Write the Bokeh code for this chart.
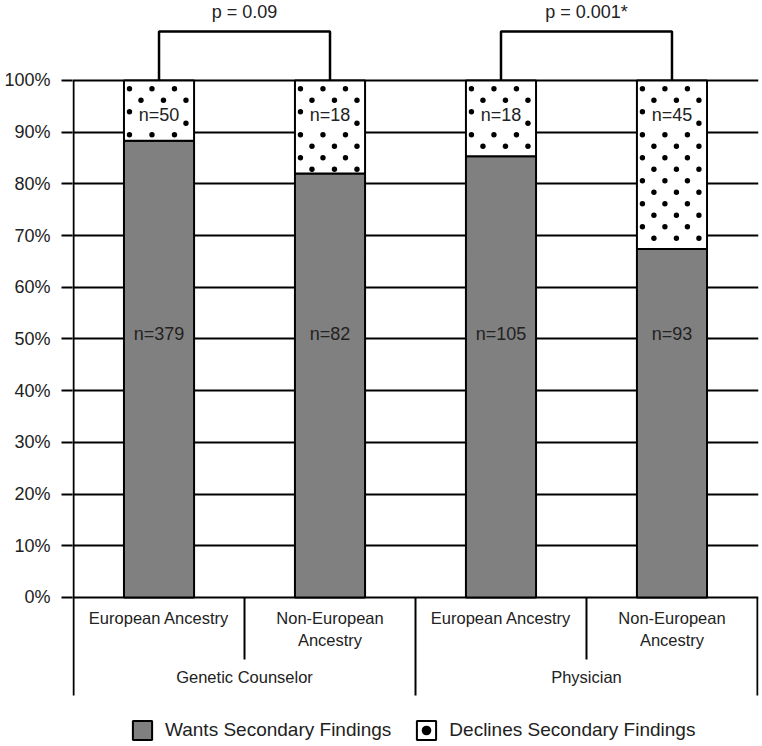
import numpy as np
from bokeh.plotting import figure
from bokeh.models import (ColumnDataSource, Range1d, FixedTicker, NumeralTickFormatter,
                          Legend, LegendItem)
from bokeh.core.properties import value
from bokeh.embed import file_html
from bokeh.resources import INLINE

# ---- data ----
professions = ["Genetic Counselor", "Genetic Counselor", "Physician", "Physician"]
ancestries = ["European Ancestry", "Non-European\nAncestry", "European Ancestry", "Non-European\nAncestry"]
wants_n = [379, 82, 105, 93]
declines_n = [50, 18, 18, 45]
p_labels = ["p = 0.09", "p = 0.001*"]
y_ticks = [0.0, 0.1, 0.2, 0.3, 0.4, 0.5, 0.6, 0.7, 0.8, 0.9, 1.0]
legend_labels = ["Wants Secondary Findings", "Declines Secondary Findings"]

# ---- derived ----
n = len(wants_n)
x = np.arange(n) + 0.5
wants = np.array(wants_n, dtype=float)
decl = np.array(declines_n, dtype=float)
total = wants + decl
wants_frac = wants / total
top_frac = total / total

FONT = "Liberation Sans"
TXT = "#222222"

W, H = 762, 746
LEFT, RIGHT = 72, 4
Y0, Y1 = -0.2882, 1.1547
XPAD = 0.006
px_x = (n + 2 * XPAD) / (W - LEFT - RIGHT)   # data units per pixel (x)
px_y = (Y1 - Y0) / H                          # data units per pixel (y)

p = figure(width=W, height=H, x_range=Range1d(-XPAD, n + XPAD), y_range=Range1d(Y0, Y1),
           output_backend="svg", toolbar_location=None, x_axis_location=None, y_axis_location="left",
           min_border_left=LEFT, min_border_right=RIGHT, min_border_top=0, min_border_bottom=0,
           outline_line_color=None, background_fill_color="white")

# y axis
yax = p.yaxis[0]
yax.ticker = FixedTicker(ticks=y_ticks)
yax.formatter = NumeralTickFormatter(format="0%")
yax.axis_line_color = None
yax.major_tick_out = 11
yax.major_tick_in = 0
yax.major_tick_line_color = "black"
yax.major_tick_line_width = 2
yax.minor_tick_line_color = None
yax.major_label_standoff = 11
yax.major_label_text_font = FONT
yax.major_label_text_font_size = "18px"
yax.major_label_text_color = TXT

p.ygrid.ticker = FixedTicker(ticks=y_ticks)
p.ygrid.grid_line_color = "black"
p.ygrid.grid_line_width = 2
for g in p.xgrid:
    g.visible = False

bar_w = 0.41
src = ColumnDataSource(dict(x=x, wants=wants_frac, top=top_frac))
r_wants = p.vbar(x="x", bottom=0, top="wants", width=bar_w, source=src,
                 fill_color="#808080", line_color="black", line_width=2)
r_decl = p.vbar(x="x", bottom="wants", top="top", width=bar_w, source=src,
                fill_color="white", line_color="black", line_width=2)

# dotted texture inside the "declines" segments (staggered lattice)
dx, dy = [], []
bw_px = bar_w / px_x
for i in range(n):
    left = x[i] - bar_w / 2
    k = 0
    while True:
        yy = top_frac[i] - (8.3 + 11.5 * k) * px_y
        if yy < wants_frac[i] + 3.5 * px_y:
            break
        off = 5.5 + (k % 2) * 11.5
        while off < bw_px - 3:
            dx.append(left + off * px_x)
            dy.append(yy)
            off += 22.5
        k += 1
r_dots = p.scatter(x=dx, y=dy, size=5.4, marker="circle", fill_color="black", line_color=None)

# data labels
p.text(x=x, y=[0.5106] * n, text=[f"n={v}" for v in wants_n], text_align="center",
       text_baseline="middle", text_font=value(FONT), text_font_size="18px", text_color=TXT)
p.text(x=x, y=[0.9323] * n, text=[f"n={v}" for v in declines_n], text_align="center",
       text_baseline="middle", text_font=value(FONT), text_font_size="18px", text_color=TXT,
       background_fill_color="white", padding=1)

# significance brackets
pairs = [(0, 1), (2, 3)]
bx, by, px = [], [], []
for a, b in pairs:
    bx.append([x[a], x[a], x[b], x[b]])
    by.append([top_frac[a], 1.0947, 1.0947, top_frac[b]])
    px.append((x[a] + x[b]) / 2)
p.multi_line(xs=bx, ys=by, line_color="black", line_width=2.5)
p.text(x=px, y=[1.1334] * len(px), text=p_labels, text_align="center", text_baseline="middle",
       text_font=value(FONT), text_font_size="18px", text_color=TXT)

# hierarchical category axis
bounds = np.arange(n + 1)
y_top = [1.0 if b == 0 else 0.0 for b in bounds]
y_bot = [-0.1896 if b % 2 == 0 else -0.1199 for b in bounds]
p.segment(x0=bounds, y0=y_top, x1=bounds, y1=y_bot, line_color="black", line_width=2)

p.text(x=x, y=[-0.0232] * n, text=ancestries, text_align="center", text_baseline="top",
       text_font=value(FONT), text_font_size="16.5px", text_color=TXT, text_line_height=1.2)

groups = []
for pr in professions:
    if pr not in groups:
        groups.append(pr)
gx = [float(np.mean([x[i] for i in range(n) if professions[i] == g])) for g in groups]
p.text(x=gx, y=[-0.1547] * len(gx), text=groups, text_align="center", text_baseline="middle",
       text_font=value(FONT), text_font_size="16.5px", text_color=TXT)

# legend
legend = Legend(items=[LegendItem(label=legend_labels[0], renderers=[r_wants]),
                       LegendItem(label=legend_labels[1], renderers=[r_decl, r_dots])],
                orientation="horizontal", location=(58, 4), glyph_width=24, glyph_height=24,
                label_text_font=FONT, label_text_font_size="19px", label_text_color=TXT,
                label_standoff=11, spacing=23, padding=0, margin=0,
                border_line_color=None, background_fill_alpha=0)
p.add_layout(legend)

open("out.html", "w").write(file_html(p, INLINE))
